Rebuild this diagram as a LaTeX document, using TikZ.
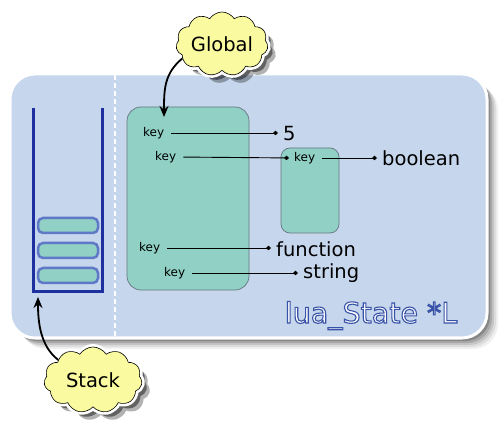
\documentclass[tikz,border=0pt]{standalone}
\usepackage{fontspec}
\setmainfont{DejaVu Sans}
\usetikzlibrary{shapes.symbols,arrows.meta}
\definecolor{statebg}{RGB}{198,214,236}
\definecolor{tablefill}{RGB}{144,208,197}
\definecolor{tableline}{RGB}{100,118,128}
\definecolor{stackblue}{RGB}{30,48,160}
\definecolor{itemline}{RGB}{95,120,200}
\definecolor{cloudfill}{RGB}{250,250,160}
\newcommand{\outlinedtext}[1]{\special{pdf:literal direct 2 Tr 1.1 w 0.22 0.32 0.66 RG}#1\special{pdf:literal direct 0 Tr}}
\begin{document}
\begin{tikzpicture}[x=1pt,y=-1pt,
  statebox/.style={draw=white,line width=3pt,fill=statebg,rounded corners=25pt,inner sep=0pt},
  divider/.style={draw=white,line width=1.6pt,dash pattern=on 5pt off 3pt},
  stackwall/.style={draw=stackblue,line width=3pt},
  stackitem/.style={draw=itemline,line width=2.5pt,fill=tablefill,rounded corners=5pt,minimum width=60pt,minimum height=15pt,inner sep=0pt},
  tablebox/.style={draw=tableline,line width=0.7pt,fill=tablefill,inner sep=0pt},
  keytxt/.style={font=\fontsize{12}{14}\selectfont,inner sep=0pt,anchor=west},
  valtxt/.style={font=\fontsize{19.5}{22}\selectfont,inner sep=0pt,anchor=west},
  link/.style={draw,line width=0.9pt,-{Diamond[length=5pt,width=4.5pt]},shorten <=7pt,shorten >=5pt},
  callout/.style={cloud,cloud puffs=11,cloud puff arc=115,cloud ignores aspect,inner sep=0pt,
    fill=cloudfill,draw=black,line width=0.6pt,font=\fontsize{19.5}{22}\selectfont,
    preaction={fill=black,opacity=0.3,transform canvas={shift={(8pt,-8pt)}}},
    preaction={fill=black,opacity=0.45,transform canvas={shift={(5pt,-5pt)}}},
    preaction={draw=white,line width=6pt}},
  callarrow/.style={draw,line width=1.8pt,-{Stealth[length=11pt,width=9pt]}},
  luatext/.style={font=\fontsize{28.5}{32}\selectfont,inner sep=0pt,anchor=base,text=white}
]
\useasboundingbox (0,0) rectangle (498,430);
% shadow of the state box
\foreach \o/\a in {11/0.06,9/0.08,7/0.11,5/0.15,3/0.2}
  \fill[black,opacity=\a,rounded corners=25pt] (10+\o,74+\o) rectangle (487+\o,338+\o);
\node[statebox,minimum width=477pt,minimum height=264pt] (state) at (248.5,206) {};
\coordinate (dtop) at (115,75.5);
\coordinate (dbot) at (115,336.5);
\draw[divider] (dtop) -- (dbot);
% stack
\coordinate (sa) at (33,108);
\coordinate (sb) at (33,292);
\coordinate (sc) at (102,292);
\coordinate (sd) at (102,108);
\draw[stackwall] (sa) -- (sb) -- (sc) -- (sd);
\node[stackitem] (it1) at (68,225.5) {};
\node[stackitem] (it2) at (68,250.5) {};
\node[stackitem] (it3) at (68,275.5) {};
% tables
\node[tablebox,rounded corners=14pt,minimum width=122pt,minimum height=183pt] (gt) at (188,198.5) {};
\node[tablebox,rounded corners=9pt,minimum width=58pt,minimum height=85pt] (ht) at (310,190.5) {};
% keys and values
\node[keytxt] (k1) at (143,133) {key};
\node[valtxt] (v1) at (283,134) {5};
\node[keytxt] (k2) at (155,157) {key};
\node[keytxt] (k2b) at (294,158) {key};
\node[valtxt] (v2) at (382,158) {boolean};
\node[keytxt] (k3) at (139,248) {key};
\node[valtxt] (v3) at (276,249) {function};
\node[keytxt] (k4) at (164,273) {key};
\node[valtxt] (v4) at (303,273) {string};
\draw[link] (k1.east) -- (v1.west |- k1.east);
\draw[link] (k2.east) -- (k2b.west);
\draw[link] (k2b.east) -- (v2.west |- k2b.east);
\draw[link] (k3.east) -- (v3.west |- k3.east);
\draw[link] (k4.east) -- (v4.west |- k4.east);
% state label
\node[luatext] (lua) at (371,323) {\outlinedtext{lua\_State *L}};
% callouts
\node[callout,minimum width=92pt,minimum height=64pt] (global) at (222,44) {Global};
\node[callout,minimum width=98pt,minimum height=66pt] (stackc) at (93,380) {Stack};
\coordinate (gtip) at (164,117);
\coordinate (stip) at (38,297);
\draw[callarrow] (global.200) .. controls +(-18,15) and +(0,-28) .. (gtip);
\draw[callarrow] (stackc.150) .. controls +(-18,-14) and +(0,25) .. (stip);
\end{tikzpicture}
\end{document}
